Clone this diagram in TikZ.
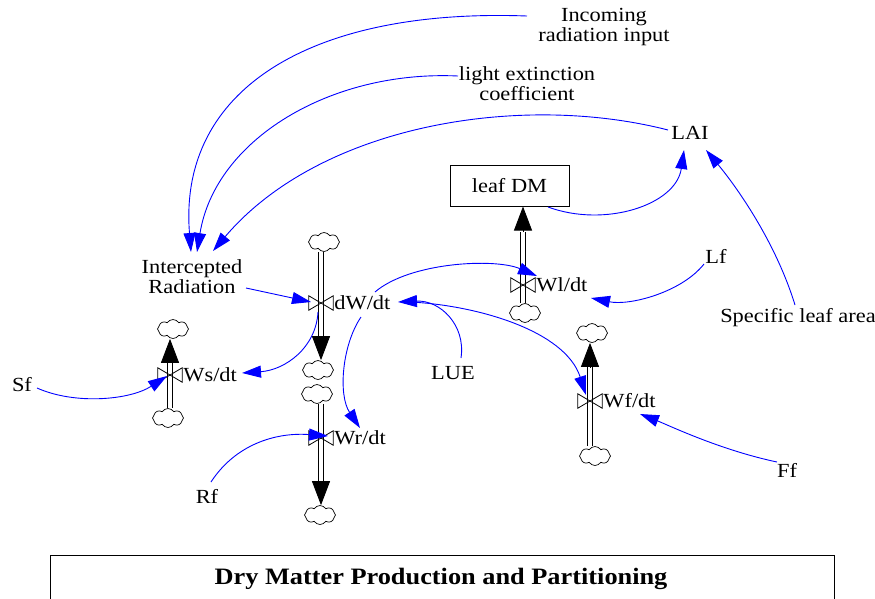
\documentclass[tikz,border=0pt]{standalone}
\usepackage{fontspec}
\setmainfont[FakeStretch=1.12]{Liberation Serif}
\usetikzlibrary{arrows.meta,shapes.symbols}

\begin{document}
\begin{tikzpicture}[x=1pt,y=-1pt,
  lbl/.style={font=\fontsize{20}{20}\selectfont, inner sep=0pt, align=center},
  info/.style={draw=blue, line width=0.9pt, -{Triangle[length=19pt,width=12pt,fill=blue]}},
  pipe/.style={draw=black, double=white, double distance=4.5pt, line width=0.9pt},
  pipehead/.style={line width=0.9pt, -{Triangle[length=24pt,width=18pt]}},
  sink/.style={cloud, cloud puffs=8, cloud puff arc=115, aspect=1.7, draw, line width=0.7pt,
    minimum width=31pt, minimum height=19pt, inner sep=0pt},
  valvebox/.style={minimum width=24pt, minimum height=14pt, inner sep=0pt},
  vlabel/.style={lbl, anchor=west, inner xsep=1pt},
  stockbox/.style={draw, line width=1pt, minimum width=119pt, minimum height=41pt, inner sep=0pt, lbl}
]
\useasboundingbox (0,0) rectangle (875,598);
\clip (0,0) rectangle (875,598);

% ---------- auxiliaries and stock ----------
\node[lbl] (inc) at (604,27.5) {Incoming\\radiation input};
\node[lbl] (lec) at (527,84) {light extinction\\coefficient};
\node[lbl] (lai) at (690,133) {LAI};
\node[stockbox] (leafdm) at (509.5,185.5) {leaf DM};
\node[lbl] (ir) at (192,277) {Intercepted\\Radiation};
\node[lbl] (lf) at (716,256) {Lf};
\node[lbl] (sla) at (798,318) {Specific leaf area};
\node[lbl] (lue) at (453,373) {LUE};
\node[lbl] (sf) at (22,385) {Sf};
\node[lbl] (rf) at (207,496) {Rf};
\node[lbl] (ff) at (787,470) {Ff};

% ---------- valves ----------
\node[valvebox] (vdw) at (321,303) {};
\node[valvebox] (vws) at (170,375) {};
\node[valvebox] (vwl) at (523,285) {};
\node[valvebox] (vwf) at (590,401) {};
\node[valvebox] (vwr) at (321,438) {};
\node[vlabel] at (vdw.east) {dW/dt};
\node[vlabel] at (vws.east) {Ws/dt};
\node[vlabel] at (vwl.east) {Wl/dt};
\node[vlabel] at (vwf.east) {Wf/dt};
\node[vlabel] at (vwr.east) {Wr/dt};

% ---------- clouds ----------
\node[sink] (cdw1) at (324,242) {};
\node[sink] (cdw2) at (318,370) {};
\node[sink] (cwr1) at (317,394) {};
\node[sink] (cwr2) at (320,515) {};
\node[sink] (cws1) at (173,329) {};
\node[sink] (cws2) at (168,418) {};
\node[sink] (cwl) at (525,313) {};
\node[sink] (cwf1) at (592,333) {};
\node[sink] (cwf2) at (595,456) {};

% ---------- flow pipes ----------
\coordinate (bdw) at (321,338);
\coordinate (bwr) at (321,484);
\coordinate (bws) at (170,362);
\coordinate (bwl) at (523,232);
\coordinate (bwf) at (590,367);

\draw[pipe] (vdw |- cdw1.south) -- (bdw);
\draw[pipehead] (bdw) -- (vdw |- cdw2.north);
\draw[pipe] (vwr |- cwr1.south) -- (bwr);
\draw[pipehead] (bwr) -- (vwr |- cwr2.north);
\draw[pipe] (vws |- cws2.north) -- (bws);
\draw[pipehead] (bws) -- (vws |- cws1.south);
\draw[pipe] (vwl |- cwl.north) -- (bwl);
\draw[pipehead] (bwl) -- (vwl |- leafdm.south);
\draw[pipe] (vwf |- cwf2.north) -- (bwf);
\draw[pipehead] (bwf) -- (vwf |- cwf1.south);

\foreach \v in {vdw,vws,vwl,vwf,vwr}
  \draw[line width=0.8pt] (\v.north west) -- (\v.south east) -- (\v.north east) -- (\v.south west) -- cycle;

% ---------- information links ----------
\coordinate (inc-o) at (527,16);
\coordinate (lec-o) at (458,76);
\coordinate (lai-o) at (668,130);
\coordinate (ir-i1) at (191,252);
\coordinate (ir-i2) at (197,252);
\coordinate (ir-i3) at (213,251);
\coordinate (ir-o) at (246,288);
\coordinate (ldm-o) at (548,207);
\coordinate (lai-i1) at (684,150);
\coordinate (lai-i2) at (706,150);
\coordinate (sla-o) at (795,305);
\coordinate (lf-o) at (704,264);
\coordinate (wl-i1) at (591,298);
\coordinate (wl-i2) at (537,276);
\coordinate (dw-o1) at (375,292);
\coordinate (dw-o2) at (410,302);
\coordinate (dw-o3) at (318,312);
\coordinate (dw-o4) at (361,317);
\coordinate (dw-i1) at (311,302);
\coordinate (dw-i2) at (398,302);
\coordinate (lue-o) at (461,358);
\coordinate (wf-i1) at (586,395);
\coordinate (wf-i2) at (640,414);
\coordinate (ws-i1) at (242,373);
\coordinate (ws-i2) at (167,376);
\coordinate (wr-i1) at (360,428);
\coordinate (wr-i2) at (328,436);
\coordinate (sf-o) at (37,388);
\coordinate (rf-o) at (211,482);
\coordinate (ff-o) at (777,462);

\draw[info] (inc-o) .. controls (310,8) and (178,90) .. (ir-i1);
\draw[info] (lec-o) .. controls (330,70) and (215,140) .. (ir-i2);
\draw[info] (lai-o) .. controls (520,92) and (320,125) .. (ir-i3);
\draw[info] (ir-o) -- (dw-i1);
\draw[info] (ldm-o) .. controls (605,228) and (676,205) .. (lai-i1);
\draw[info] (sla-o) .. controls (775,240) and (735,185) .. (lai-i2);
\draw[info] (lf-o) .. controls (682,292) and (630,306) .. (wl-i1);
\draw[info] (dw-o1) .. controls (410,262) and (495,258) .. (wl-i2);
\draw[info] (lue-o) .. controls (466,325) and (440,300) .. (dw-i2);
\draw[info] (dw-o2) .. controls (475,305) and (565,330) .. (wf-i1);
\draw[info] (dw-o3) .. controls (316,348) and (285,370) .. (ws-i1);
\draw[info] (dw-o4) .. controls (342,345) and (338,395) .. (wr-i1);
\draw[info] (sf-o) .. controls (75,405) and (130,400) .. (ws-i2);
\draw[info] (rf-o) .. controls (235,445) and (275,432) .. (wr-i2);
\draw[info] (ff-o) .. controls (720,450) and (668,425) .. (wf-i2);

% ---------- title panel ----------
\node[draw, line width=1pt, minimum width=784pt, minimum height=70pt, anchor=north west,
  inner sep=0pt] (panel) at (50,555) {};
\node[font=\bfseries\fontsize{23.5}{24}\selectfont, inner sep=0pt] (title) at (441,579)
  {Dry Matter Production and Partitioning};
\end{tikzpicture}
\end{document}
